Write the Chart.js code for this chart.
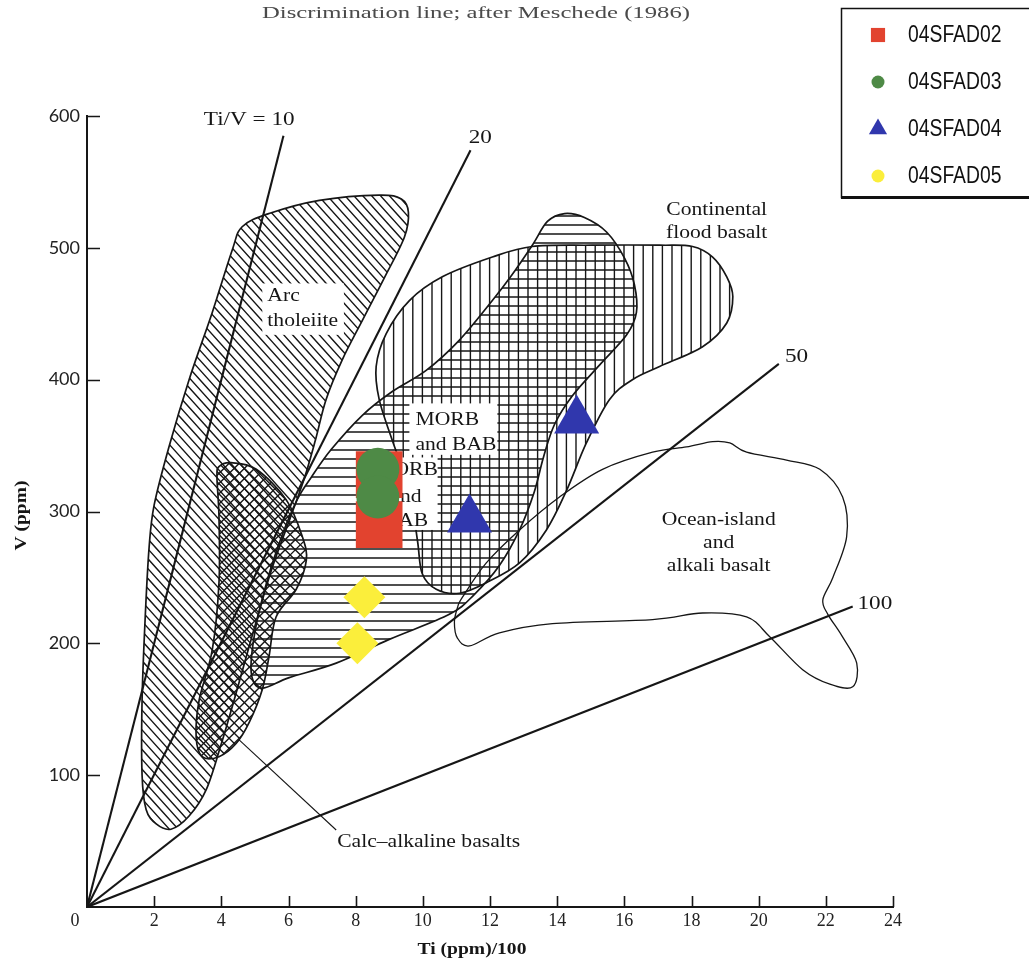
<!DOCTYPE html>
<html>
<head>
<meta charset="utf-8">
<title>Ti–V discrimination diagram</title>
<script src="https://cdn.jsdelivr.net/npm/chart.js@4.4.1/dist/chart.umd.min.js"></script>
<style>
  html, body { margin: 0; padding: 0; background: #fff; }
</style>
</head>
<body>
<canvas id="tiv" width="1029" height="968"></canvas>
<script>
// samples
const sampleNames = ['04SFAD02', '04SFAD03', '04SFAD04', '04SFAD05'];
const sampleColors = ['#e2432f', '#4e8a46', '#3037ad', '#fbee3b'];
const sampleStyles = ['rect', 'circle', 'triangle', 'rectRot'];
const legendStyles = ['rect', 'circle', 'triangle', 'circle'];
const sampleTi = [[8.7, 8.7], [8.66, 8.66], [11.39, 14.58], [8.26, 8.05]];
const sampleV = [[328, 290], [332, 311], [294, 369], [235, 200]];

// Ti/V ratio lines, drawn from the origin to these ends
const ratioLabels = ['Ti/V = 10', '20', '50', '100'];
const ratioEndTi = [5.85, 11.42, 20.6, 22.8];
const ratioEndV = [585, 574, 412, 228];
const ratioLabelTi = [4.83, 11.71, 21.13, 23.46];
const ratioLabelV = [597, 583, 417, 230];

// axis ticks
const tiTicks = [0, 2, 4, 6, 8, 10, 12, 14, 16, 18, 20, 22, 24];
const vTicks = [100, 200, 300, 400, 500, 600];

// field outlines (Ti/100, V)
const arcTi = [4.62, 5.42, 6.92, 8.70, 9.36, 9.57, 9.45, 8.85, 8.20, 7.60, 7.12, 6.80, 6.47, 6.05, 5.51, 5.01, 4.47, 3.99, 3.55, 3.04, 2.50, 2.06, 1.76, 1.64, 1.64, 1.73, 1.85, 2.00, 2.44, 3.04, 3.73, 4.32];
const arcV = [516, 526, 536, 540, 537, 527, 508, 477, 445, 415, 385, 354, 325, 295, 257, 214, 165, 123, 89, 69, 59, 63, 74, 100, 157, 218, 273, 305, 349, 400, 451, 498];

const calcTi = [3.93, 4.29, 5.04, 5.93, 6.41, 6.53, 6.23, 5.63, 5.42, 5.22, 4.83, 4.44, 3.93, 3.43, 3.25, 3.34, 3.73, 3.93, 3.93, 3.87];
const calcV = [334, 337, 332, 309, 281, 263, 241, 220, 190, 165, 140, 124, 114, 114, 129, 157, 195, 246, 296, 326];

const morbTi = [14.22, 14.81, 15.47, 16.01, 16.30, 16.36, 16.07, 15.26, 14.46, 13.92, 13.59, 13.32, 12.88, 12.28, 11.53, 10.79, 9.00, 7.42, 6.02, 5.19, 4.89, 5.01, 5.37, 5.81, 6.26, 6.68, 7.27, 8.20, 9.09, 10.10, 11.09, 12.07, 12.64, 13.26, 13.71];
const morbV = [526, 523, 512, 492, 472, 451, 434, 411, 388, 366, 341, 315, 286, 259, 237, 222, 203, 185, 174, 166, 178, 210, 248, 282, 309, 326, 347, 373, 391, 407, 430, 460, 479, 502, 520];

const cfbTi = [8.61, 8.91, 9.60, 10.58, 12.07, 13.26, 15.05, 17.05, 18.03, 18.63, 19.05, 19.23, 19.05, 18.33, 17.05, 16.24, 15.56, 14.87, 14.28, 13.68, 12.88, 11.89, 11.09, 10.40, 9.98, 9.84, 9.60, 9.09, 8.70];
const cfbV = [410, 435, 460, 478, 493, 501, 502, 502, 501, 493, 478, 463, 443, 425, 410, 400, 385, 352, 316, 286, 261, 246, 238, 241, 253, 278, 316, 354, 385];

const oibTi = [11.03, 11.18, 11.89, 12.88, 14.07, 15.35, 16.84, 17.85, 18.63, 19.14, 19.64, 20.83, 21.82, 22.50, 22.62, 22.21, 21.91, 22.06, 22.47, 22.92, 22.80, 22.12, 21.31, 20.33, 19.64, 18.33, 16.84, 13.86, 12.28, 11.39, 11.03, 10.94];
const oibV = [227, 235, 261, 286, 311, 332, 345, 349, 353, 352, 345, 339, 332, 311, 281, 250, 233, 222, 206, 185, 167, 169, 180, 205, 220, 223, 218, 215, 208, 198, 204, 216];

// field names and their white label patches
const noteText = ['Arc', 'tholeiite', 'MORB', 'and BAB', 'MORB', 'and', 'BAB', 'Continental', 'flood basalt', 'Ocean-island', 'and', 'alkali basalt', 'Calc\u2013alkaline basalts'];
const noteTi = [5.37, 5.37, 9.78, 9.78, 9.5, 9.5, 9.5, 18.75, 18.75, 18.81, 18.81, 18.81, 7.45];
const noteV = [463.5, 444.5, 369.4, 350.4, 331.5, 311.0, 292.8, 528.7, 511.3, 293.6, 276.1, 258.7, 49.3];
const noteAlign = ['left', 'left', 'left', 'left', 'center', 'center', 'center', 'center', 'center', 'center', 'center', 'center', 'left'];
const maskTi = [[5.22, 7.65], [9.60, 12.22], [8.26, 10.44]];
const maskV = [[434, 473], [343, 382], [286, 341]];
const leaderTi = [4.53, 7.42];
const leaderV = [126.7, 58.4];

const fields = [
  { ti: arcTi, v: arcV, hatch: [48], gap: 6.6 },
  { ti: calcTi, v: calcV, hatch: [45, -45], gap: 7.2 },
  { ti: morbTi, v: morbV, hatch: [0], gap: 9 },
  { ti: cfbTi, v: cfbV, hatch: [90], gap: 9.6 },
  { ti: oibTi, v: oibV, hatch: [], gap: 0 }
];

const INK = '#161616';
const SERIF = '"Liberation Serif", "Times New Roman", serif';
const TICK_FONT = { family: SERIF, size: 18 };

function stretchText(ctx, text, x, y, align, sx, font, color, rot) {
  ctx.save();
  ctx.translate(x, y);
  if (rot) ctx.rotate(rot);
  ctx.scale(sx, 1);
  ctx.font = font;
  ctx.fillStyle = color;
  ctx.textAlign = align;
  ctx.textBaseline = 'middle';
  ctx.fillText(text, 0, 0);
  ctx.restore();
}

// closed Catmull-Rom curve through the outline points
function smoothPath(ctx, pts) {
  const n = pts.length;
  ctx.beginPath();
  ctx.moveTo(pts[0].x, pts[0].y);
  for (let i = 0; i < n; i++) {
    const p0 = pts[(i - 1 + n) % n], p1 = pts[i], p2 = pts[(i + 1) % n], p3 = pts[(i + 2) % n];
    ctx.bezierCurveTo(
      p1.x + (p2.x - p0.x) / 6, p1.y + (p2.y - p0.y) / 6,
      p2.x - (p3.x - p1.x) / 6, p2.y - (p3.y - p1.y) / 6,
      p2.x, p2.y);
  }
  ctx.closePath();
}

function hatch(ctx, pts, angle, gap) {
  const xs = pts.map(p => p.x), ys = pts.map(p => p.y);
  const x0 = Math.min(...xs) - 12, x1 = Math.max(...xs) + 12;
  const y0 = Math.min(...ys) - 12, y1 = Math.max(...ys) + 12;
  const a = angle * Math.PI / 180, dx = Math.cos(a), dy = Math.sin(a), nx = -dy, ny = dx;
  const proj = [[x0, y0], [x1, y0], [x0, y1], [x1, y1]].map(c => c[0] * nx + c[1] * ny);
  const sMin = Math.min(...proj), sMax = Math.max(...proj);
  const L = (x1 - x0) + (y1 - y0);
  const t = ((x0 + x1) / 2) * dx + ((y0 + y1) / 2) * dy;
  ctx.beginPath();
  for (let s = Math.ceil(sMin / gap) * gap; s <= sMax; s += gap) {
    const px = nx * s + dx * t, py = ny * s + dy * t;
    ctx.moveTo(px - dx * L, py - dy * L);
    ctx.lineTo(px + dx * L, py + dy * L);
  }
  ctx.stroke();
}

const fieldsPlugin = {
  id: 'fields',
  beforeDatasetsDraw(chart) {
    const { ctx, scales: { x, y } } = chart;
    fields.forEach(f => {
      const pts = f.ti.map((t, i) => ({ x: x.getPixelForValue(t), y: y.getPixelForValue(f.v[i]) }));
      ctx.save();
      smoothPath(ctx, pts);
      ctx.clip();
      ctx.strokeStyle = INK;
      ctx.lineWidth = 1.4;
      f.hatch.forEach(a => hatch(ctx, pts, a, f.gap));
      ctx.restore();
      ctx.save();
      smoothPath(ctx, pts);
      ctx.strokeStyle = INK;
      ctx.lineWidth = f.hatch.length ? 1.7 : 1.3;
      ctx.stroke();
      ctx.restore();
    });

    // white patches behind the field names
    ctx.save();
    ctx.fillStyle = '#fff';
    maskTi.forEach((m, i) => {
      const l = x.getPixelForValue(m[0]), r = x.getPixelForValue(m[1]);
      const b = y.getPixelForValue(maskV[i][0]), t = y.getPixelForValue(maskV[i][1]);
      ctx.fillRect(l, t, r - l, b - t);
    });
    ctx.restore();

    noteText.forEach((txt, i) => {
      stretchText(ctx, txt, x.getPixelForValue(noteTi[i]), y.getPixelForValue(noteV[i]),
        noteAlign[i], 1.2, '18px ' + SERIF, INK);
    });
    ratioLabels.forEach((txt, i) => {
      stretchText(ctx, txt, x.getPixelForValue(ratioLabelTi[i]), y.getPixelForValue(ratioLabelV[i]),
        'center', 1.22, '19px ' + SERIF, INK);
    });

    ctx.save();
    ctx.strokeStyle = INK;
    ctx.lineWidth = 1.1;
    ctx.beginPath();
    ctx.moveTo(x.getPixelForValue(leaderTi[0]), y.getPixelForValue(leaderV[0]));
    ctx.lineTo(x.getPixelForValue(leaderTi[1]), y.getPixelForValue(leaderV[1]));
    ctx.stroke();
    ctx.restore();
  }
};

// inward tick marks, origin label, axis titles, heading and legend
const framePlugin = {
  id: 'frame',
  afterDraw(chart) {
    const { ctx, chartArea: area, scales: { x, y } } = chart;
    ctx.save();
    ctx.strokeStyle = INK;
    ctx.lineWidth = 1.6;
    ctx.beginPath();
    x.ticks.forEach(t => {
      if (t.value === 0) return;
      const px = Math.round(x.getPixelForValue(t.value)) + 0.5;
      ctx.moveTo(px, area.bottom);
      ctx.lineTo(px, area.bottom - 11);
    });
    y.ticks.forEach(t => {
      const py = Math.round(y.getPixelForValue(t.value)) + 0.5;
      ctx.moveTo(area.left, py);
      ctx.lineTo(area.left + 13, py);
    });
    ctx.stroke();
    ctx.restore();

    // shared origin label sits left of the corner
    stretchText(ctx, '0', area.left - 12, area.bottom + 14, 'center', 1, TICK_FONT.size + 'px ' + SERIF, '#222');

    stretchText(ctx, 'V (ppm)', 22, (area.top + area.bottom) / 2 + 4, 'center', 1.15, 'bold 17px ' + SERIF, INK, -Math.PI / 2);
    stretchText(ctx, 'Ti (ppm)/100', 472, 950, 'center', 1.15, 'bold 17px ' + SERIF, INK);

    // heading, stretched to its printed width
    ctx.save();
    ctx.font = '16px ' + SERIF;
    const head = 'Discrimination line; after Meschede (1986)';
    const w = ctx.measureText(head).width;
    ctx.restore();
    stretchText(ctx, head, 476, 14, 'center', 428 / w, '16px ' + SERIF, '#4a4a4a');

    // legend box
    ctx.save();
    ctx.strokeStyle = '#111';
    ctx.lineWidth = 1.5;
    ctx.strokeRect(841.5, 8.5, 210, 189);
    ctx.fillStyle = '#111';
    ctx.fillRect(841, 196, 210, 3);
    const legendSizes = [10, 6.5, 10.5, 6.5];
    sampleNames.forEach((name, i) => {
      const ly = 35 + i * 47;
      ctx.fillStyle = sampleColors[i];
      Chart.helpers.drawPoint(ctx, { pointStyle: legendStyles[i], radius: legendSizes[i], rotation: 0, borderWidth: 0 }, 878, ly);
      stretchText(ctx, name, 908, ly + 1, 'left', 0.84, '23px "Liberation Sans", Arial, sans-serif', '#111');
    });
    ctx.restore();
  }
};

const ratioSets = ratioLabels.map((lab, i) => ({
  label: lab,
  data: [{ x: 0, y: 0 }, { x: ratioEndTi[i], y: ratioEndV[i] }],
  showLine: true,
  pointRadius: 0,
  borderColor: INK,
  borderWidth: 2.1,
  order: 10
}));

const pointSizes = [33, 21.5, 26, 21];
const sampleSets = sampleNames.map((name, i) => ({
  label: name,
  data: sampleTi[i].map((t, j) => ({ x: t, y: sampleV[i][j] })),
  pointStyle: sampleStyles[i],
  pointRadius: pointSizes[i],
  pointHoverRadius: pointSizes[i],
  pointBackgroundColor: sampleColors[i],
  pointBorderWidth: 0,
  showLine: false,
  order: sampleNames.length - i
}));

new Chart(document.getElementById('tiv'), {
  type: 'scatter',
  data: { datasets: [...ratioSets, ...sampleSets] },
  options: {
    responsive: false,
    animation: false,
    events: [],
    layout: { padding: { top: 116, right: 136, left: 0, bottom: 0 } },
    plugins: { legend: { display: false }, tooltip: { enabled: false } },
    scales: {
      x: {
        type: 'linear', min: 0, max: 24,
        afterFit: s => { s.height = 61; },
        afterBuildTicks: s => { s.ticks = tiTicks.map(v => ({ value: v })); },
        grid: { display: false, drawTicks: false },
        border: { display: true, color: INK, width: 2 },
        ticks: { padding: 3, color: '#222', autoSkip: false, maxRotation: 0, font: TICK_FONT,
                 callback: v => (v === 0 ? '' : v) }
      },
      y: {
        type: 'linear', min: 0, max: 600,
        afterFit: s => { s.width = 87; },
        afterBuildTicks: s => { s.ticks = vTicks.map(v => ({ value: v })); },
        grid: { display: false, drawTicks: false },
        border: { display: true, color: INK, width: 2 },
        ticks: { padding: 7, color: '#222', font: { family: 'Lato, "Open Sans", sans-serif', size: 18 } }
      }
    }
  },
  plugins: [fieldsPlugin, framePlugin]
});
</script>
</body>
</html>
